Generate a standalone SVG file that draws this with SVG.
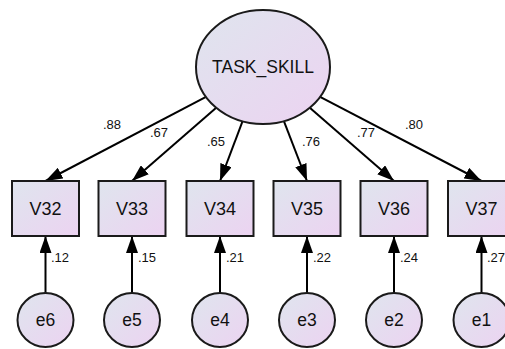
<svg xmlns="http://www.w3.org/2000/svg" width="505" height="349" viewBox="0 0 505 349">
<defs>
<linearGradient id="fill" x1="0" y1="0" x2="1" y2="1">
<stop offset="0" stop-color="#dfe5ee"/>
<stop offset="1" stop-color="#ecd3f1"/>
</linearGradient>
<marker id="arr" markerUnits="userSpaceOnUse" markerWidth="18" markerHeight="12" viewBox="0 0 18 12" refX="17" refY="6" orient="auto">
<path d="M0,0 L17,6 L0,12 Z" fill="#000"/>
</marker>
<style>
.shape{fill:url(#fill);stroke:#1a1a1a;stroke-width:2}
.lbl{font-family:"Liberation Sans",Arial,sans-serif;font-size:17.5px;fill:#111;text-anchor:middle}
.box{font-size:18px}
.num{font-family:"Liberation Sans",Arial,sans-serif;font-size:13px;fill:#111}
.edge{stroke:#000;stroke-width:2;fill:none;marker-end:url(#arr)}
</style>
</defs>
<g id="connectors">
<line class="edge" x1="206" y1="96.9" x2="45.5" y2="181"/>
<line class="edge" x1="216.2" y1="107.8" x2="132" y2="181"/>
<line class="edge" x1="242.5" y1="121.3" x2="220" y2="181"/>
<line class="edge" x1="283.9" y1="121.2" x2="307" y2="181"/>
<line class="edge" x1="309.8" y1="107.8" x2="394" y2="181"/>
<line class="edge" x1="320.1" y1="96.8" x2="481.5" y2="181"/>
<line class="edge" x1="45.5" y1="293" x2="45.5" y2="236"/>
<line class="edge" x1="132" y1="293" x2="132" y2="236"/>
<line class="edge" x1="220" y1="293" x2="220" y2="236"/>
<line class="edge" x1="307" y1="293" x2="307" y2="236"/>
<line class="edge" x1="394" y1="293" x2="394" y2="236"/>
<line class="edge" x1="481.5" y1="293" x2="481.5" y2="236"/>
<text class="num" x="103" y="129">.88</text>
<text class="num" x="150" y="137">.67</text>
<text class="num" x="207" y="146">.65</text>
<text class="num" x="302" y="146">.76</text>
<text class="num" x="357" y="137">.77</text>
<text class="num" x="405" y="129">.80</text>
<text class="num" x="51" y="262">.12</text>
<text class="num" x="138" y="262">.15</text>
<text class="num" x="226" y="262">.21</text>
<text class="num" x="313" y="262">.22</text>
<text class="num" x="400" y="262">.24</text>
<text class="num" x="487" y="262">.27</text>
</g>
<g id="TASK_SKILL">
<ellipse class="shape" cx="263" cy="67" rx="67" ry="57"/>
<text class="lbl" x="263" y="73">TASK_SKILL</text>
</g>
<g id="V32"><rect class="shape" x="12" y="181" width="67" height="55"/><text class="lbl box" x="45.5" y="215">V32</text></g>
<g id="V33"><rect class="shape" x="98.5" y="181" width="67" height="55"/><text class="lbl box" x="132" y="215">V33</text></g>
<g id="V34"><rect class="shape" x="186.5" y="181" width="67" height="55"/><text class="lbl box" x="220" y="215">V34</text></g>
<g id="V35"><rect class="shape" x="273.5" y="181" width="67" height="55"/><text class="lbl box" x="307" y="215">V35</text></g>
<g id="V36"><rect class="shape" x="360.5" y="181" width="67" height="55"/><text class="lbl box" x="394" y="215">V36</text></g>
<g id="V37"><rect class="shape" x="448" y="181" width="67" height="55"/><text class="lbl box" x="481.5" y="215">V37</text></g>
<g id="e6"><ellipse class="shape" cx="45.5" cy="320" rx="28" ry="27"/><text class="lbl" x="45.5" y="326">e6</text></g>
<g id="e5"><ellipse class="shape" cx="132" cy="320" rx="28" ry="27"/><text class="lbl" x="132" y="326">e5</text></g>
<g id="e4"><ellipse class="shape" cx="220" cy="320" rx="28" ry="27"/><text class="lbl" x="220" y="326">e4</text></g>
<g id="e3"><ellipse class="shape" cx="307" cy="320" rx="28" ry="27"/><text class="lbl" x="307" y="326">e3</text></g>
<g id="e2"><ellipse class="shape" cx="394" cy="320" rx="28" ry="27"/><text class="lbl" x="394" y="326">e2</text></g>
<g id="e1"><ellipse class="shape" cx="481.5" cy="320" rx="28" ry="27"/><text class="lbl" x="481.5" y="326">e1</text></g>
</svg>
